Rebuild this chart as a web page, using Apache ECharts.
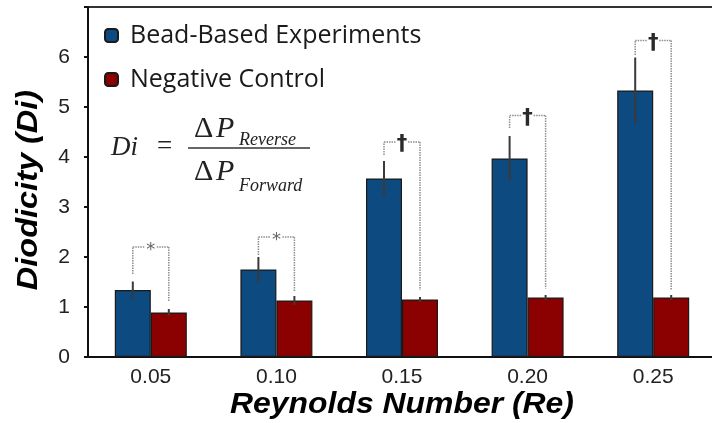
<!DOCTYPE html>
<html>
<head>
<meta charset="utf-8">
<script src="https://cdn.jsdelivr.net/npm/echarts@6/dist/echarts.min.js"></script>
<style>html,body{margin:0;padding:0;background:#fff;}#c{width:712px;height:423px;}</style>
</head>
<body>
<div id="c"></div>
<script>
var categories = ['0.05', '0.10', '0.15', '0.20', '0.25'];
var beadValues = [1.34, 1.75, 3.57, 3.97, 5.33];
var beadErrors = [0.17, 0.25, 0.35, 0.45, 0.66];
var controlValues = [0.89, 1.13, 1.15, 1.19, 1.19];
var controlErrors = [0.07, 0.09, 0.05, 0.05, 0.05];
var bracketTop = [2.2, 2.4, 4.3, 4.83, 6.33];
var bracketLeftEnd = [1.66, 2.04, 4.04, 4.58, 6.04];
var bracketRightEnd = [1.1, 1.3, 1.34, 1.37, 1.34];
var bracketMarks = ['*', '*', '†', '†', '†'];
var yTicks = [0, 1, 2, 3, 4, 5, 6];

var BAR_W = 36;
var BLUE = '#0d4a80';
var RED = '#8b0000';

function errorRender(sign) {
  return function (params, api) {
    var i = api.value(0), v = api.value(1), e = api.value(2);
    var p1 = api.coord([i, v + e]);
    var p2 = api.coord([i, v - e]);
    var x = p1[0] + sign * BAR_W / 2;
    return {
      type: 'line',
      shape: { x1: x, y1: p1[1], x2: x, y2: p2[1] },
      style: { stroke: '#3a3a3a', lineWidth: 2 }
    };
  };
}

function bracketRender(params, api) {
  var i = api.value(0);
  var top = api.coord([i, api.value(1)]);
  var lb = api.coord([i, api.value(2)]);
  var rb = api.coord([i, api.value(3)]);
  var xl = top[0] - BAR_W / 2, xr = top[0] + BAR_W / 2;
  var mark = bracketMarks[params.dataIndex];
  var isStar = mark === '*';
  var st = { stroke: '#8f8f8f', lineWidth: 1.5, lineDash: [1.5, 1] };
  return {
    type: 'group',
    children: [
      { type: 'line', shape: { x1: xl, y1: lb[1], x2: xl, y2: top[1] }, style: st },
      { type: 'line', shape: { x1: xl, y1: top[1], x2: top[0] - 6, y2: top[1] }, style: st },
      { type: 'line', shape: { x1: top[0] + 6, y1: top[1], x2: xr, y2: top[1] }, style: st },
      { type: 'line', shape: { x1: xr, y1: top[1], x2: xr, y2: rb[1] }, style: st },
      { type: 'text', x: top[0], y: top[1] + (isStar ? 3 : 3), style: {
          text: mark, align: 'center', verticalAlign: 'middle',
          font: (isStar ? 'normal 18px "DejaVu Sans"' : 'bold 21px "DejaVu Sans"'),
          fill: isStar ? '#666' : '#2a2a2a'
      } }
    ]
  };
}

var serif = '"Liberation Serif", "Times New Roman", serif';

var chart = echarts.init(document.getElementById('c'), null, { renderer: 'canvas' });
chart.setOption({
  animation: false,
  backgroundColor: '#fff',
  grid: { left: 88, top: 7, right: -4, bottom: 66, outerBoundsMode: 'none', containLabel: false,
          show: true, borderColor: '#333', borderWidth: 2, backgroundColor: 'transparent' },
  legend: {
    data: ['Bead-Based Experiments', 'Negative Control'],
    orient: 'vertical', left: 104, top: 22, padding: 0,
    itemWidth: 13, itemHeight: 13, itemGap: 17,
    textStyle: { fontFamily: 'Open Sans', fontSize: 25, color: '#1a1a1a', lineHeight: 27, padding: [0, 0, 0, 7] }
  },
  xAxis: {
    type: 'category', data: categories,
    axisLine: { lineStyle: { color: '#111', width: 2 } },
    axisTick: { inside: true, length: 6, lineStyle: { color: '#111', width: 2 } },
    axisLabel: { fontFamily: 'Arial, Liberation Sans', fontSize: 21, color: '#222', margin: 10 }
  },
  yAxis: {
    type: 'value', min: 0, max: 7, interval: 1,
    axisLine: { show: true, lineStyle: { color: '#111', width: 2 } },
    axisTick: { show: true, length: 4, lineStyle: { color: '#111', width: 2 } },
    splitLine: { show: false },
    axisLabel: {
      fontFamily: 'Arial, Liberation Sans', fontSize: 21, color: '#222', margin: 18,
      formatter: function (v) { return yTicks.indexOf(v) >= 0 ? String(v) : ''; }
    }
  },
  graphic: [
    { type: 'text', x: 29, y: 190, rotation: Math.PI / 2, scaleX: 1.12, style: {
        text: 'Diodicity (Di)', align: 'center', verticalAlign: 'middle',
        font: 'italic bold 29px Arial, "Liberation Sans"', fill: '#000' } },
    { type: 'text', x: 402, y: 405, scaleX: 1.1, style: {
        text: 'Reynolds Number (Re)', align: 'center', verticalAlign: 'middle',
        font: 'italic bold 29px Arial, "Liberation Sans"', fill: '#000' } },
    { type: 'text', x: 111, y: 148, style: {
        text: 'Di', verticalAlign: 'middle', font: 'italic 27px ' + serif, fill: '#222' } },
    { type: 'text', x: 157, y: 147, style: {
        text: '=', verticalAlign: 'middle', font: '27px ' + serif, fill: '#222' } },
    { type: 'line', shape: { x1: 188, y1: 148, x2: 310, y2: 148 }, style: { stroke: '#333', lineWidth: 1.5 } },
    { type: 'text', x: 194, y: 129, style: { text: 'Δ', verticalAlign: 'middle', font: '30px ' + serif, fill: '#222' } },
    { type: 'text', x: 216, y: 129, style: { text: 'P', verticalAlign: 'middle', font: 'italic 30px ' + serif, fill: '#222' } },
    { type: 'text', x: 239, y: 140, style: { text: 'Reverse', verticalAlign: 'middle', font: 'italic 18px ' + serif, fill: '#222' } },
    { type: 'text', x: 194, y: 172, style: { text: 'Δ', verticalAlign: 'middle', font: '30px ' + serif, fill: '#222' } },
    { type: 'text', x: 216, y: 172, style: { text: 'P', verticalAlign: 'middle', font: 'italic 30px ' + serif, fill: '#222' } },
    { type: 'text', x: 239, y: 186, style: { text: 'Forward', verticalAlign: 'middle', font: 'italic 18px ' + serif, fill: '#222' } }
  ],
  series: [
    { name: 'Bead-Based Experiments', type: 'bar', data: beadValues, barWidth: BAR_W, barGap: '0%',
      itemStyle: { color: BLUE, borderColor: '#1a1a1a', borderWidth: 1.2 } },
    { name: 'Negative Control', type: 'bar', data: controlValues, barWidth: BAR_W, barGap: '0%',
      itemStyle: { color: RED, borderColor: '#1a1a1a', borderWidth: 1.2 } },
    { type: 'custom', renderItem: errorRender(-1), z: 5, encode: { x: 0, y: 1 },
      data: categories.map(function (c, i) { return [i, beadValues[i], beadErrors[i]]; }) },
    { type: 'custom', renderItem: errorRender(1), z: 5, encode: { x: 0, y: 1 },
      data: categories.map(function (c, i) { return [i, controlValues[i], controlErrors[i]]; }) },
    { type: 'custom', renderItem: bracketRender, z: 6, encode: { x: 0, y: 1 },
      data: categories.map(function (c, i) { return [i, bracketTop[i], bracketLeftEnd[i], bracketRightEnd[i]]; }) }
  ]
});
</script>
</body>
</html>
